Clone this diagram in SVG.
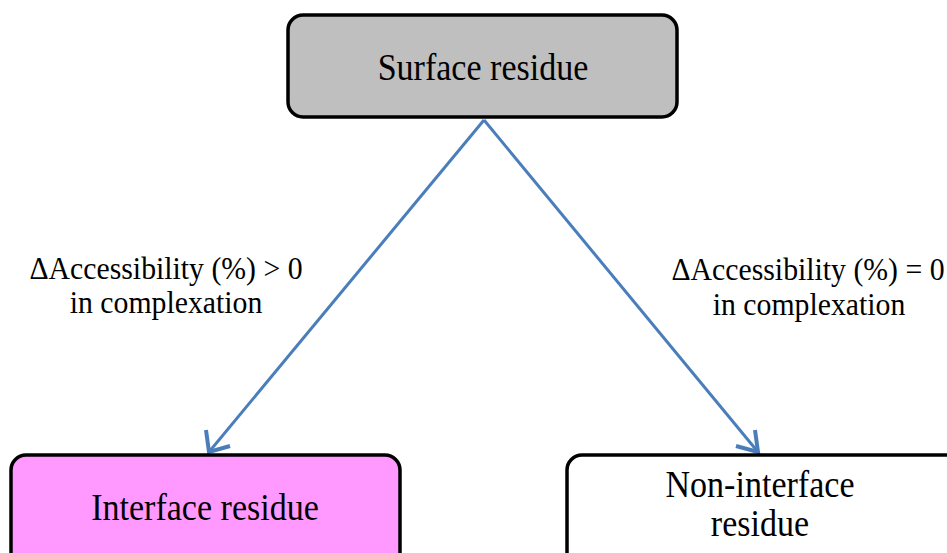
<svg xmlns="http://www.w3.org/2000/svg" width="947" height="553" viewBox="0 0 947 553">
<style>
.box{stroke:#000;stroke-width:3.5}
.t{font-family:"Liberation Serif","Times New Roman",serif;font-size:37px;fill:#000;text-anchor:middle}
.l{font-family:"Liberation Serif","Times New Roman",serif;font-size:32px;fill:#000;text-anchor:middle}
.c{stroke:#4A7EBB;stroke-width:3;fill:none}
.h{stroke:#4A7EBB;stroke-width:4;fill:none}
</style>
<rect width="947" height="553" fill="#fff"/>
<g id="connectors">
<line class="c" x1="484" y1="120" x2="209" y2="452"/>
<path class="h" d="M206,430 L209,452 L230,446"/>
<line class="c" x1="484" y1="120" x2="758" y2="452"/>
<path class="h" d="M736,446 L758,452 L755,430"/>
</g>
<g id="label-left">
<text class="l" transform="translate(166,279) scale(0.93,1)">ΔAccessibility (%) &gt; 0</text>
<text class="l" transform="translate(166,313) scale(0.93,1)">in complexation</text>
</g>
<g id="label-right">
<text class="l" transform="translate(808,280) scale(0.93,1)">ΔAccessibility (%) = 0</text>
<text class="l" transform="translate(809,315) scale(0.93,1)">in complexation</text>
</g>
<g id="surface">
<rect class="box" x="288" y="15" width="389" height="102" rx="15" fill="#BFBFBF"/>
<text class="t" transform="translate(483,80) scale(0.92,1)">Surface residue</text>
</g>
<g id="interface">
<rect class="box" x="11" y="455" width="389" height="120" rx="15" fill="#FF99FF"/>
<text class="t" transform="translate(205,520) scale(0.92,1)">Interface residue</text>
</g>
<g id="noninterface">
<rect class="box" x="567" y="455" width="400" height="120" rx="15" fill="#fff"/>
<text class="t" transform="translate(760,497) scale(0.92,1)">Non-interface</text>
<text class="t" transform="translate(760,536) scale(0.92,1)">residue</text>
</g>
</svg>
